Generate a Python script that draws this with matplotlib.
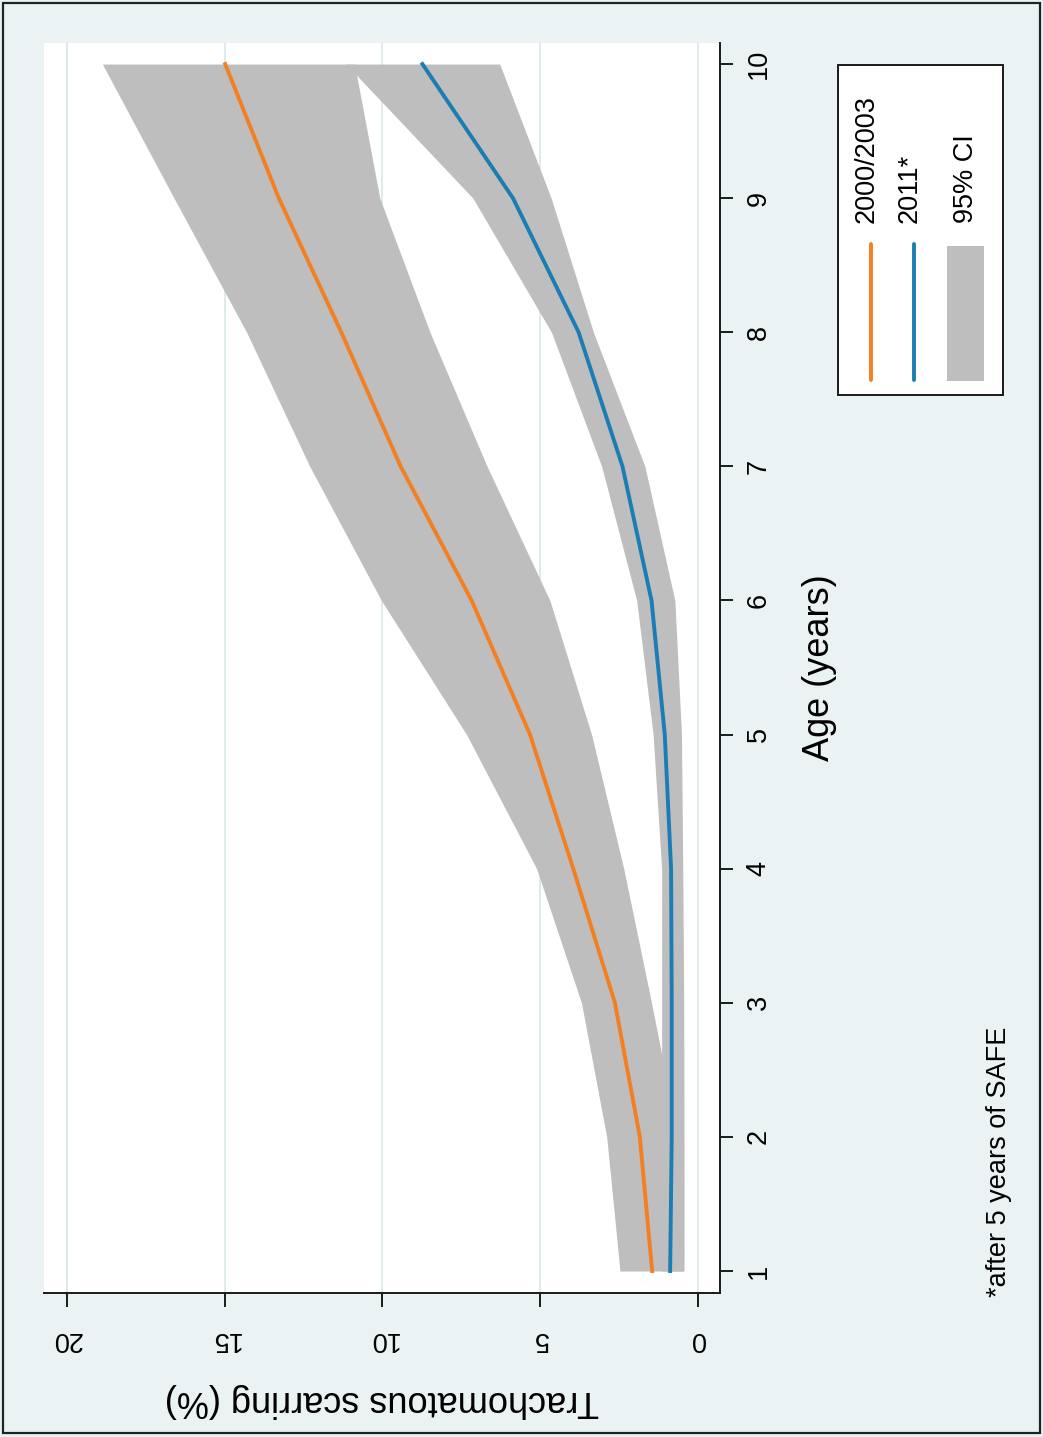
import matplotlib
matplotlib.use("Agg")
import matplotlib.pyplot as plt
from matplotlib.patches import Rectangle
from matplotlib.lines import Line2D

plt.rcParams['font.family'] = ['Liberation Sans', 'DejaVu Sans']

# Age in years and predicted prevalence of trachomatous scarring (%)
ages = [1, 2, 3, 4, 5, 6, 7, 8, 9, 10]

scar_2000_2003 = [1.45, 1.84, 2.63, 3.95, 5.32, 7.17, 9.42, 11.3, 13.28, 14.98]
scar_2000_2003_lo = [0.50, 0.63, 1.47, 2.35, 3.37, 4.69, 6.68, 8.49, 10.08, 10.88]
scar_2000_2003_hi = [2.47, 2.89, 3.69, 5.11, 7.33, 10.03, 12.3, 14.3, 16.6, 18.87]

scar_2011 = [0.88, 0.83, 0.83, 0.85, 1.05, 1.47, 2.39, 3.78, 5.86, 8.73]
scar_2011_lo = [0.44, 0.44, 0.45, 0.48, 0.52, 0.73, 1.68, 3.31, 4.65, 6.28]
scar_2011_hi = [1.15, 1.15, 1.15, 1.15, 1.42, 1.94, 3.05, 4.64, 7.13, 11.15]

scar_ticks = [0, 5, 10, 15, 20]
age_ticks = [1, 2, 3, 4, 5, 6, 7, 8, 9, 10]

legend_labels = ["2000/2003", "2011*", "95% CI"]
footnote = "*after 5 years of SAFE"

BG = '#EAF2F3'
GRID = '#DCE8EC'
BAND = '#BEBEBE'
ORANGE = '#F28022'
BLUE = '#1B7DB3'

W, H = 1043, 1437
fig = plt.figure(figsize=(W / 100, H / 100), dpi=100, facecolor=BG)


def fx(px):
    return px / W


def fy(py):
    return 1 - py / H


# The chart is laid out on its side: age runs up the right edge,
# scarring runs right-to-left along the bottom.
ax = fig.add_axes([fx(44), fy(1293), fx(720) - fx(44), fy(43) - fy(1293)])
ax.set_facecolor('white')

ax.fill_betweenx(ages, scar_2000_2003_lo, scar_2000_2003_hi, color=BAND, lw=0, zorder=2)
ax.fill_betweenx(ages, scar_2011_lo, scar_2011_hi, color=BAND, lw=0, zorder=2)
ax.plot(scar_2000_2003, ages, color=ORANGE, lw=2.8, zorder=3)
ax.plot(scar_2011, ages, color=BLUE, lw=2.8, zorder=3)

ax.set_xlim(20.72, -0.70)
ax.set_ylim(0.836, 10.157)

ax.set_xticks(scar_ticks)
ax.set_xticklabels([str(t) for t in scar_ticks])
ax.set_yticks(age_ticks)
ax.set_yticklabels([str(t) for t in age_ticks])

ax.xaxis.grid(True, color=GRID, lw=1.3, zorder=1)
ax.yaxis.grid(False)
ax.set_axisbelow(True)

for side in ['top', 'left']:
    ax.spines[side].set_visible(False)
for side in ['right', 'bottom']:
    ax.spines[side].set_color('#1a1a1a')
    ax.spines[side].set_linewidth(1.4)

ax.yaxis.tick_right()
ax.yaxis.set_label_position('right')
ax.tick_params(axis='y', which='both', left=False, right=True, length=9.5, width=1.4,
               color='#1a1a1a', labelsize=19.5, pad=9, labelrotation=90)
for lab in ax.get_yticklabels():
    lab.set_va('center')
ax.tick_params(axis='x', length=10, width=1.4, color='#1a1a1a', labelsize=19.5,
               pad=14, labelrotation=180)

ax.set_ylabel('Age (years)', fontsize=26, rotation=90, labelpad=22)
ax.set_xlabel('Trachomatous scarring (%)', fontsize=26, rotation=180, labelpad=22)

# Legend box drawn beside the age axis
fig.add_artist(Rectangle((fx(838), fy(395)), fx(1003) - fx(838), fy(65) - fy(395),
                         transform=fig.transFigure, facecolor='white',
                         edgecolor='#1a1a1a', lw=1.4))
fig.add_artist(Line2D([fx(871), fx(871)], [fy(380), fy(244)], transform=fig.transFigure,
                      color=ORANGE, lw=2.8, solid_capstyle='round'))
fig.add_artist(Line2D([fx(914), fx(914)], [fy(380), fy(244)], transform=fig.transFigure,
                      color=BLUE, lw=2.8, solid_capstyle='round'))
fig.add_artist(Rectangle((fx(947), fy(381)), fx(984) - fx(947), fy(246) - fy(381),
                         transform=fig.transFigure, facecolor=BAND, lw=0))
for xc, lab in zip([867, 910, 966], legend_labels):
    fig.text(fx(xc), fy(223), lab, rotation=90, ha='center', va='bottom', fontsize=19.5)

fig.text(fx(999), fy(1297), footnote, rotation=90, ha='center', va='bottom', fontsize=19.5)

# Frame around the whole figure
fig.add_artist(Rectangle((fx(3), fy(1433)), fx(1040) - fx(3), fy(3) - fy(1433),
                         transform=fig.transFigure, fill=False, edgecolor='#222222', lw=1.6))

fig.savefig('out.png', dpi=100, facecolor=BG)
